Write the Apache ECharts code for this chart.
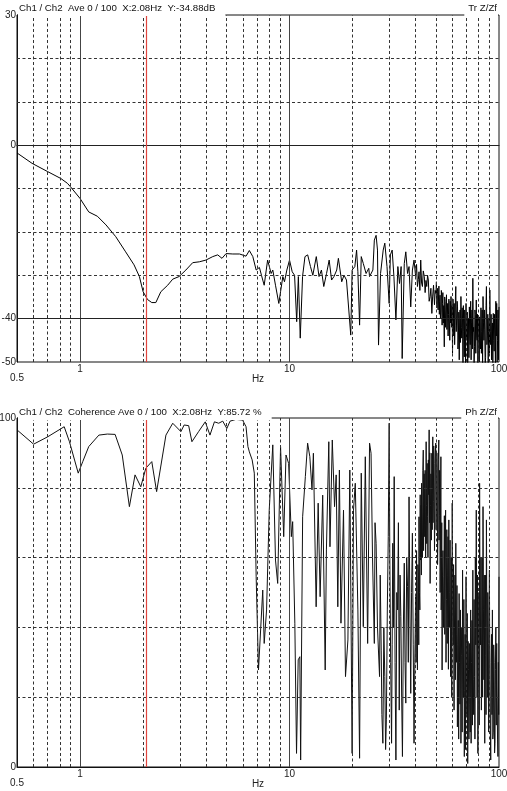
<!DOCTYPE html>
<html>
<head>
<meta charset="utf-8">
<script src="https://cdn.jsdelivr.net/npm/echarts@6/dist/echarts.min.js"></script>
<style>
  html, body { margin: 0; padding: 0; background: #fff; }
  #chart { width: 507px; height: 791px; }
</style>
</head>
<body>
<div id="chart"></div>
<script>
// ===== Data: transfer function (dB) =====
const trFreq = [
  0.5, 0.59, 0.7, 0.81, 0.87, 0.9, 1.0, 1.1, 1.21, 1.33,
  1.48, 1.65, 1.81, 1.92, 2.0, 2.1, 2.2, 2.3, 2.43, 2.62,
  2.77, 2.97, 3.2, 3.45, 3.71, 3.99, 4.3, 4.54, 4.76, 4.98,
  5.36, 5.77, 6.2, 6.43, 6.68, 6.93, 7.18, 7.45, 7.57, 7.86,
  8.17, 8.32, 8.57, 8.89, 9.06, 9.29, 9.46, 9.71, 10.0, 10.3,
  10.57, 10.82, 11.02, 11.25, 11.54, 11.85, 12.21, 12.59, 12.92, 13.42,
  13.83, 14.2, 14.57, 15.02, 15.46, 15.88, 16.3, 16.8, 17.11, 17.75,
  18.2, 18.7, 19.6, 19.9, 20.5, 20.9, 21.2, 21.6, 22.0, 22.5,
  23.2, 23.9, 24.1, 25.0, 25.4, 25.9, 26.3, 26.6, 27.2, 28.0,
  28.5, 29.2, 29.9, 30.3, 30.9, 31.5, 32.2, 32.9, 33.5, 34.1,
  34.5, 35.3, 35.9, 36.6, 37.2, 37.9, 38.6, 39.3,
  40.0, 40.4, 40.8, 41.2, 41.5, 41.9, 42.3, 42.7, 43.1, 43.5,
  44.0, 44.4, 44.8, 45.2, 45.6, 46.0, 46.4, 46.9, 47.3, 47.8,
  48.2, 48.7, 49.2, 49.6,
  50.0, 50.25, 50.5, 50.75, 51.0, 51.2, 51.4, 51.65, 51.9, 52.1,
  52.3, 52.55, 52.8, 53.05, 53.3, 53.5, 53.7, 53.95, 54.2, 54.5,
  54.8, 55.05, 55.3, 55.6, 55.9, 56.15, 56.4, 56.65, 56.9, 57.15,
  57.4, 57.65, 57.9, 58.2, 58.5, 58.75, 59.0, 59.25, 59.5, 59.75,
  60.0, 60.3, 60.6, 60.85, 61.1, 61.4, 61.7, 61.95, 62.2, 62.5,
  62.8, 63.1, 63.4, 63.7, 64.0, 64.3, 64.6, 64.9, 65.2, 65.5,
  65.8, 66.1, 66.4, 66.7, 67.0, 67.3, 67.6, 67.95, 68.3, 68.6,
  68.9, 69.25, 69.6, 69.9, 70.2, 70.55, 70.9, 71.2, 71.5, 71.85,
  72.2, 72.55, 72.9, 73.25, 73.6, 73.95, 74.3, 74.65, 75.0, 75.35,
  75.7, 76.05, 76.4, 76.75, 77.1, 77.5, 77.9, 78.25, 78.6, 78.95,
  79.3, 79.7, 80.1, 80.45, 80.8, 81.2, 81.6, 82.0, 82.4, 82.75,
  83.1, 83.5, 83.9, 84.3, 84.7, 85.1, 85.5, 85.9, 86.3, 86.7,
  87.1, 87.55, 88.0, 88.4, 88.8, 89.2, 89.6, 90.0, 90.4, 90.85,
  91.3, 91.7, 92.1, 92.55, 93.0, 93.45, 93.9, 94.35, 94.8, 95.25,
  95.7, 96.15, 96.6, 97.05, 97.5, 97.95, 98.4, 98.85, 99.3, 99.65,
  100
]
const trDb = [
  -1.8, -4.2, -6.1, -7.7, -8.8, -9.6, -12.3, -15.4, -16.4, -18.4,
  -21.1, -24.6, -27.6, -30.3, -33.8, -35.6, -36.3, -36.3, -33.8, -32.3,
  -30.9, -30.3, -28.8, -27.1, -26.9, -26.5, -25.7, -25.3, -26.1, -25.0,
  -25.1, -25.1, -25.6, -24.3, -25.7, -28.8, -28.2, -31.1, -32.3, -26.5,
  -29.6, -28.8, -32.3, -36.5, -33.8, -30.3, -31.5, -28.8, -26.5, -29.2,
  -30.0, -40.7, -30.3, -44.5, -30.3, -25.7, -25.3, -28.0, -30.0, -25.7,
  -30.3, -28.8, -32.6, -29.6, -26.5, -31.1, -30.3, -28.8, -26.1, -31.5,
  -30.0, -31.1, -43.8, -28.8, -28.0, -24.2, -29.2, -41.5, -25.7, -27.3,
  -29.6, -28.4, -30.3, -28.8, -21.9, -20.8, -24.2, -46.1, -29.6, -24.2,
  -22.6, -28.0, -36.5, -25.3, -24.2, -30.3, -40.3, -28.0, -31.9, -28.0,
  -49.2, -27.3, -24.6, -29.6, -28.0, -37.3, -28.8, -26.5,
  -30.3, -27.5, -32.6, -31.0, -29.2, -33.5, -26.5, -31.8, -32.6, -29.0,
  -30.3, -34.0, -31.2, -32.6, -30.0, -31.1, -36.0, -34.9, -33.0, -38.8,
  -35.0, -32.3, -36.8, -33.5,
  -34.2, -31.5, -37.5, -33.0, -33.8, -38.0, -35.7, -32.5, -39.0, -36.0,
  -34.6, -40.0, -38.5, -33.5, -35.0, -41.5, -36.5, -34.0, -41.0, -37.0,
  -46.5, -35.0, -36.0, -42.0, -38.0, -34.5, -42.5, -39.0, -36.5, -44.0,
  -39.0, -35.5, -40.3, -45.0, -36.0, -41.0, -34.9, -39.5, -42.0, -37.0,
  -48.0, -35.5, -38.0, -44.0, -36.5, -46.0, -41.5, -35.0, -32.6, -43.0,
  -40.0, -36.0, -37.3, -47.0, -44.0, -38.5, -49.5, -41.0, -38.0, -45.5,
  -34.9, -42.0, -44.5, -37.5, -40.3, -50.5, -37.0, -43.0, -48.8, -38.0,
  -41.0, -51.0, -36.5, -43.5, -45.0, -38.5, -51.0, -42.0, -40.0, -49.0,
  -37.3, -44.0, -46.0, -36.0, -49.5, -41.0, -38.0, -47.0, -30.7, -43.0,
  -42.0, -50.5, -46.5, -38.0, -39.0, -48.0, -35.7, -44.0, -45.0, -39.0,
  -51.5, -40.0, -42.0, -50.0, -39.6, -45.0, -47.0, -37.5, -48.0, -43.0,
  -38.0, -50.5, -34.9, -41.0, -45.0, -38.0, -42.6, -51.0, -49.0, -37.0,
  -32.6, -46.0, -44.0, -39.0, -51.0, -43.0, -40.0, -48.0, -33.4, -43.0,
  -46.0, -39.0, -49.5, -42.0, -41.0, -51.0, -38.8, -45.0, -47.5, -39.0,
  -42.6, -51.0, -36.0, -44.0, -36.5, -50.0, -45.0, -38.0, -49.5, -41.0,
  -37.3
]

// ===== Data: coherence (%) =====
const cohFreq = [
  0.5, 0.6, 0.7, 0.84, 0.89, 0.98, 1.03, 1.1, 1.23, 1.35,
  1.47, 1.59, 1.72, 1.83, 1.95, 2.06, 2.2, 2.32, 2.57, 2.77,
  3.03, 3.14, 3.3, 3.42, 3.68, 3.96, 4.17, 4.38, 4.59, 4.8,
  5.02, 5.2, 5.55, 5.97, 6.2, 6.33, 6.43, 6.63, 6.79, 6.93,
  7.11, 7.45, 7.57, 7.77, 8.0, 8.32, 8.57, 8.78, 9.06, 9.38,
  9.62, 9.9, 10.2, 10.35, 10.6, 10.8, 11.0, 11.2, 11.3, 11.55,
  11.9, 12.2, 12.5, 12.8, 13.0, 13.4, 13.7, 14.0, 14.4, 14.8,
  15.0, 15.4, 15.6, 16.0, 16.4, 16.7, 17.0, 17.3, 17.6, 18.1,
  18.5, 19.0, 19.4, 19.9, 20.2, 20.6, 21.2, 21.6, 22.0, 22.5,
  23.0, 23.6, 24.1, 24.5,
  24.9, 25.4, 25.6, 25.9, 26.3, 26.9, 27.1, 27.4, 27.6, 27.9,
  28.2, 28.5, 28.75, 29.0, 29.3, 29.6, 29.9, 30.1, 30.4, 30.7,
  30.9, 31.1, 31.35, 31.6, 31.9, 32.2, 32.5, 32.8, 33.1, 33.4,
  33.7, 34.0, 34.3, 34.6, 34.95, 35.3, 35.6, 35.9, 36.25, 36.6,
  36.9, 37.2, 37.55, 37.9, 38.25, 38.6, 38.95, 39.3, 39.65,
  40.0, 40.2, 40.4, 40.6, 40.8, 41.0, 41.2, 41.4, 41.5, 41.7,
  41.9, 42.05, 42.2, 42.35, 42.5, 42.6, 42.7, 42.9, 43.1, 43.3,
  43.5, 43.65, 43.8, 43.9, 44.0, 44.2, 44.4, 44.65, 44.9, 45.05,
  45.2, 45.4, 45.6, 45.8, 46.0, 46.2, 46.4, 46.5, 46.6, 46.75,
  46.9, 47.1, 47.3, 47.55, 47.8, 47.9, 48.0, 48.15, 48.3, 48.45,
  48.6, 48.8, 49.0, 49.2, 49.4, 49.65, 49.9, 50.1, 50.3, 50.5,
  50.7, 50.9, 51.1, 51.35, 51.6, 51.75, 51.9, 52.05, 52.2, 52.35,
  52.5, 52.65, 52.8, 52.95, 53.1, 53.3, 53.5, 53.75, 54.0, 54.3,
  54.6, 54.85, 55.1, 55.35, 55.6, 55.85, 56.1, 56.35, 56.6, 56.85,
  57.1, 57.35, 57.6, 57.85, 58.1, 58.4, 58.7, 58.95, 59.2, 59.5,
  59.8, 60.1, 60.4, 60.7, 61.0, 61.3, 61.6, 61.9, 62.2, 62.45,
  62.7, 63.0, 63.3, 63.6, 63.9, 64.2, 64.5, 64.8, 65.1, 65.45,
  65.8, 66.1, 66.4, 66.7, 67.0, 67.3, 67.6, 67.95, 68.3, 68.6,
  68.9, 69.25, 69.6, 69.9, 70.2, 70.55, 70.9, 71.2, 71.5, 71.85,
  72.2, 72.55, 72.9, 73.25, 73.6, 73.95, 74.3, 74.65, 75.0, 75.35,
  75.7, 76.05, 76.4, 76.75, 77.1, 77.5, 77.9, 78.25, 78.6, 78.95,
  79.3, 79.7, 80.1, 80.45, 80.8, 81.2, 81.6, 82.0, 82.4, 82.75,
  83.1, 83.5, 83.9, 84.3, 84.7, 85.1, 85.5, 85.9, 86.3, 86.7,
  87.1, 87.55, 88.0, 88.4, 88.8, 89.2, 89.6, 90.0, 90.4, 90.85,
  91.3, 91.7, 92.1, 92.55, 93.0, 93.45, 93.9, 94.35, 94.8, 95.25,
  95.7, 96.15, 96.6, 97.05, 97.5, 97.95, 98.4, 98.85, 99.3, 99.65,
  100
]
const cohPct = [
  96.6, 92.5, 94.6, 97.5, 93.2, 84.2, 87.5, 91.8, 95.1, 95.4,
  95.3, 89.4, 74.6, 83.7, 80.3, 85.6, 87.5, 78.9, 95.1, 98.5,
  96.1, 98.0, 97.8, 93.2, 96.1, 98.9, 95.1, 98.9, 98.5, 99.1,
  97.0, 99.1, 99.6, 99.4, 97.5, 91.8, 90.3, 88.0, 84.2, 54.5,
  27.8, 50.7, 35.4, 45.0, 73.6, 92.3, 59.3, 52.6, 91.8, 66.0,
  89.4, 87.0, 66.0, 70.3, 41.2, 3.9, 30.7, 31.6, 2.0, 71.7,
  83.2, 92.8, 88.9, 79.4, 89.9, 45.9, 75.6, 48.8, 77.9, 27.8,
  62.2, 93.2, 63.1, 93.7, 74.6, 83.7, 45.9, 85.1, 41.2, 73.6,
  25.9, 36.4, 85.1, 3.9, 73.6, 81.3, 45.0, 2.5, 84.2, 40.2,
  88.9, 35.4, 92.8, 89.9,
  60, 35.4, 70, 64.1, 40, 25.9, 55, 33.5, 15, 6.8,
  40, 25.9, 5, 13.5, 45, 66.0, 98.5, 62.2, 30, 6.8,
  35, 64.1, 40, 83.2, 30, 2.0, 50, 45.0, 70, 16.3,
  55, 43.1, 20, 3.0, 40, 58.4, 30, 18.3, 60, 51.7,
  30, 77.4, 45, 21.1, 50, 67.0, 35, 6.8, 30,
  48.8, 30, 62, 40, 27.8, 58, 55, 35, 71.7, 50,
  45, 78, 59.3, 70, 75, 55, 81.3, 66, 60, 85,
  90.8, 62, 72, 84, 66.0, 80, 85, 60, 93.2, 75,
  64, 87, 71.7, 60, 88, 78, 96.6, 80, 70, 90,
  52.6, 75, 84, 65, 89.9, 78, 68, 88, 94.6, 70,
  76, 92, 87.0, 62, 70, 90, 92.8, 68, 74, 90,
  85.1, 58, 66, 88, 93.7, 65, 72, 85, 77.4, 50,
  60, 80, 88.9, 45, 50, 70, 27.8, 55, 62, 40,
  54.5, 72, 38, 60, 73.6, 30, 48, 68, 35.4, 55,
  66, 28, 70.8, 50, 40, 65, 25.9, 45, 60, 20,
  75.6, 45, 35, 58, 16.3, 40, 55, 25, 64.1, 38,
  30, 52, 11.5, 35, 42, 8, 49.7, 30, 18, 45,
  6.8, 32, 40, 10, 56.4, 25, 20, 48, 3.0, 22,
  38, 5, 54.5, 30, 15, 44, 1.0, 36, 28, 8,
  35.4, 18, 10, 45, 6.8, 30, 42, 12, 56.4, 25,
  15, 48, 25.9, 8, 60, 35, 73.6, 40, 20, 55,
  3.9, 30, 50, 12, 81.3, 45, 35, 60, 16.3, 40,
  60, 20, 74.6, 45, 25, 55, 6.8, 32, 55, 15,
  70.8, 40, 20, 50, 35.4, 10, 42, 56.4, 25, 12,
  2.0, 30, 38, 15, 45.0, 8, 10, 35, 30, 4,
  6.8, 28, 40, 12, 35.4, 20, 8, 3.0, 30, 15,
  54.5
]

// ===== Grid lines / labels =====
const minorFreqs = [0.6, 0.7, 0.8, 0.9, 2, 3, 4, 5, 6, 7, 8, 9, 20, 30, 40, 50, 60, 70, 80, 90]
const majorFreqs = [1, 10]
const cursorFreq = 2.08
const trDashedLevels = [20, 10, -10, -20, -30]
const trSolidLevels = [0, -40]
const trLabelLevels = [30, 0, -40, -50]
const cohDashedLevels = [20, 40, 60, 80]
const cohLabelLevels = [100, 0]

const font = 'Liberation Sans, Arial, sans-serif'
const dashStyle = { color: '#333', width: 1, type: [3, 2.5] }
const solidStyle = { color: '#444', width: 1, type: 'solid' }
const redStyle = { color: '#e0453f', width: 1.2, type: 'solid' }

function vLines(list, style) {
  return list.map(v => ({ xAxis: v, lineStyle: style }))
}
function hLines(list, style) {
  return list.map(v => ({ yAxis: v, lineStyle: style }))
}

// 网格线放在一个空系列的 markLine 里，画在曲线下面
function gridSeries(idx, dashed, solid) {
  return {
    type: 'line',
    xAxisIndex: idx,
    yAxisIndex: idx,
    data: [],
    silent: true,
    z: 1,
    markLine: {
      symbol: ['none', 'none'],
      silent: true,
      animation: false,
      label: { show: false },
      data: [
        ...vLines(minorFreqs, dashStyle),
        ...vLines(majorFreqs, solidStyle),
        ...hLines(dashed, dashStyle),
        ...hLines(solid, { color: '#222', width: 1, type: 'solid' }),
        { xAxis: cursorFreq, lineStyle: redStyle }
      ]
    }
  }
}

function xAxisFor(idx) {
  return {
    type: 'log',
    logBase: 10,
    gridIndex: idx,
    min: 0.5,
    max: 100,
    name: 'Hz',
    nameLocation: 'middle',
    nameGap: 12,
    nameMoveOverlap: false,
    nameTextStyle: { fontSize: 10, fontFamily: font, color: '#222' },
    axisLine: { show: true, lineStyle: { color: '#111', width: 1 } },
    axisTick: { show: false },
    splitLine: { show: false },
    axisLabel: {
      fontSize: 10,
      fontFamily: font,
      color: '#222',
      margin: 2,
      formatter(v) {
        const r = Math.round(v * 10) / 10
        return r < 0.9 ? '{lo|' + r + '}' : String(r)
      },
      rich: { lo: { fontSize: 10, fontFamily: font, color: '#222', padding: [9, 0, 0, 0] } }
    }
  }
}

function yAxisFor(idx, min, max, interval, labels) {
  return {
    type: 'value',
    gridIndex: idx,
    min, max, interval,
    axisLine: { show: true, lineStyle: { color: '#111', width: 1 } },
    axisTick: { show: false },
    splitLine: { show: false },
    axisLabel: {
      fontSize: 10,
      fontFamily: font,
      color: '#222',
      margin: 1,
      formatter(v) { return labels.includes(v) ? String(v) : '' }
    }
  }
}

const titleBase = {
  backgroundColor: '#fff',
  textStyle: { fontSize: 9.7, fontWeight: 'normal', fontFamily: font, color: '#111', lineHeight: 12 }
}

const chart = echarts.init(document.getElementById('chart'))
chart.setOption({
  animation: false,
  backgroundColor: '#fff',
  title: [
    { ...titleBase, text: 'Ch1 / Ch2  Ave 0 / 100  X:2.08Hz  Y:-34.88dB', left: 18, top: 1, padding: [1, 10, 2, 1] },
    { ...titleBase, text: 'Tr Z/Zf', right: 9, top: 1, padding: [1, 1, 2, 4] },
    { ...titleBase, text: 'Ch1 / Ch2  Coherence Ave 0 / 100  X:2.08Hz  Y:85.72 %', left: 18, top: 405, padding: [1, 10, 2, 1] },
    { ...titleBase, text: 'Ph Z/Zf', right: 9, top: 405, padding: [1, 1, 2, 4] }
  ],
  grid: [
    { left: 17, right: 8, top: 15, height: 347, outerBoundsMode: 'none', show: true, borderColor: '#111', borderWidth: 1 },
    { left: 17, right: 8, top: 418, height: 349, outerBoundsMode: 'none', show: true, borderColor: '#111', borderWidth: 1 }
  ],
  xAxis: [xAxisFor(0), xAxisFor(1)],
  yAxis: [
    yAxisFor(0, -50, 30, 10, trLabelLevels),
    yAxisFor(1, 0, 100, 20, cohLabelLevels)
  ],
  series: [
    gridSeries(0, trDashedLevels, trSolidLevels),
    gridSeries(1, cohDashedLevels, []),
    {
      type: 'line',
      xAxisIndex: 0,
      yAxisIndex: 0,
      symbol: 'none',
      clip: true,
      z: 3,
      lineStyle: { color: '#000', width: 1 },
      data: trFreq.map((f, i) => [f, trDb[i]])
    },
    {
      type: 'line',
      xAxisIndex: 1,
      yAxisIndex: 1,
      symbol: 'none',
      clip: true,
      z: 3,
      lineStyle: { color: '#111', width: 1 },
      data: cohFreq.map((f, i) => [f, cohPct[i]])
    }
  ]
})
</script>
</body>
</html>
